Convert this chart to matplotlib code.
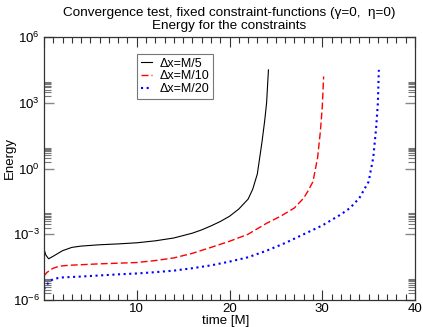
import numpy as np
import matplotlib
matplotlib.use("Agg")
import matplotlib.pyplot as plt
from matplotlib.ticker import FixedLocator, NullFormatter

plt.rcParams['font.family'] = ['Liberation Sans', 'DejaVu Sans']
plt.rcParams['mathtext.fontset'] = 'custom'
plt.rcParams['mathtext.rm'] = 'Liberation Sans'
plt.rcParams['mathtext.it'] = 'Liberation Sans:italic'

# ---- data (log10 of energy) ----
t_m5 = [0, 0.2, 0.5, 1, 2, 3, 4, 6, 8, 10, 12, 14, 16, 17, 18, 19, 20, 21, 22, 22.5, 23, 23.5, 23.8, 24, 24.2]
logE_m5 = [-3.68, -3.95, -4.12, -4.0, -3.75, -3.6, -3.54, -3.48, -3.44, -3.39, -3.3, -3.17, -2.95, -2.8,
           -2.62, -2.42, -2.18, -1.85, -1.4, -0.95, -0.25, 1.2, 2.2, 3.0, 4.5]

t_m10 = [0, 0.3, 0.7, 1, 1.5, 2, 3, 4, 6, 8, 10, 12, 14, 16, 18, 20, 22, 24, 25.5, 27, 28, 28.5, 29,
         29.5, 29.8, 30, 30.15]
logE_m10 = [-4.9, -4.75, -4.62, -4.55, -4.48, -4.44, -4.41, -4.39, -4.35, -4.32, -4.29, -4.2, -4.08, -3.87,
            -3.6, -3.32, -3.0, -2.5, -2.18, -1.8, -1.35, -1.0, -0.6, 0.5, 1.7, 2.8, 4.2]

t_m20 = [0, 0.3, 0.7, 1, 1.5, 2, 3, 4, 6, 8, 10, 12, 14, 16, 18, 20, 22, 24, 26, 28, 30, 31, 32, 33, 34,
         35, 35.5, 35.8, 36, 36.1]
logE_m20 = [-5.5, -5.3, -5.12, -5.05, -5.0, -4.97, -4.95, -4.93, -4.88, -4.83, -4.79, -4.73, -4.66, -4.55,
            -4.42, -4.25, -4.05, -3.75, -3.4, -3.0, -2.6, -2.35, -2.1, -1.8, -1.35, -0.6, 0.5, 1.8, 3.0, 4.5]

labels = ['\u0394x=M/5', '\u0394x=M/10', '\u0394x=M/20']
xticks = [10, 20, 30, 40]
xtick_labels = ['10', '20', '30', '40']
ytick_exps = [-6, -3, 0, 3, 6]

fig = plt.figure(figsize=(4.23, 3.27), dpi=100)
ax = fig.add_axes([44/423, 1-300/327, 371/423, 263/327])

ax.plot(t_m5, 10**np.array(logE_m5), color='black', lw=0.8, label=labels[0])
ax.plot(t_m10, 10**np.array(logE_m10), color='red', lw=1.0, linestyle=(0, (5, 2.2)), label=labels[1])
ax.plot(t_m20, 10**np.array(logE_m20), color='blue', lw=1.5, linestyle=(0, (1, 1.7)),
        dash_capstyle='butt', label=labels[2])

ax.set_yscale('log')
ax.set_xlim(0, 40)
ax.set_ylim(1e-6, 1e6)

ax.set_xticks([0] + xticks)
ax.set_xticklabels([''] + xtick_labels)
ax.xaxis.set_minor_locator(FixedLocator(np.arange(0, 41, 1)))

ax.set_yticks([10.0**e for e in ytick_exps])
ax.set_yticklabels([r'$\mathregular{10^{%s}}$' % (('-' + str(-e)) if e < 0 else str(e)) for e in ytick_exps])
minor_y = [m * 10.0**e for e in ytick_exps[:-1] for m in range(2, 10)]
ax.yaxis.set_minor_locator(FixedLocator(minor_y))
ax.yaxis.set_minor_formatter(NullFormatter())

ax.tick_params(which='both', direction='in', top=True, right=True, labelsize=9.5)
ax.tick_params(axis='x', which='major', length=7, width=0.8, color='#333333')
ax.tick_params(axis='x', which='minor', length=4, width=0.8, color='#333333')
ax.tick_params(axis='y', which='major', length=7, width=1.0, color='#888888')
ax.tick_params(axis='y', which='minor', length=5, width=0.8, color='#777777')
ax.tick_params(axis='x', pad=2.5)
ax.tick_params(axis='y', pad=3)

for s in ax.spines.values():
    s.set_linewidth(0.9)
    s.set_color('#333333')

ax.set_xlabel('time [M]', fontsize=9.5, va='center')
ax.xaxis.set_label_coords(0.49, -0.078)
ax.set_ylabel('Energy', fontsize=9.5, va='center')
ax.yaxis.set_label_coords(-0.093, 0.54)

ax.set_title('Convergence test, fixed constraint-functions (\u03b3=0,  \u03b7=0)\nEnergy for the constraints',
             fontsize=9.7, linespacing=1.05, pad=6)

leg = ax.legend(loc='upper left', bbox_to_anchor=(0.25, 0.935), borderaxespad=0, fontsize=9,
                handlelength=0.9, handletextpad=0.6, labelspacing=0.05, borderpad=0.3,
                fancybox=False, framealpha=1, edgecolor='#777777')
leg.get_frame().set_linewidth(0.8)

fig.savefig('out.png', dpi=100)
